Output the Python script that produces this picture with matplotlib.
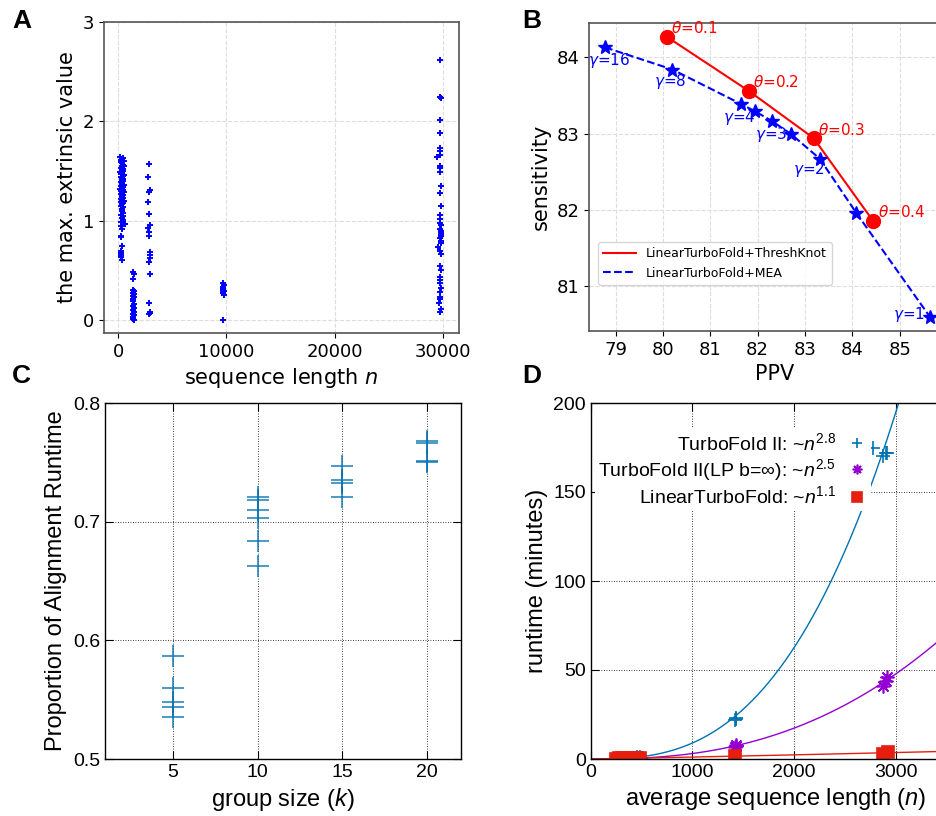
import numpy as np
import matplotlib
matplotlib.use("Agg")
import matplotlib.pyplot as plt

plt.rcParams["mathtext.fontset"] = "custom"
plt.rcParams["mathtext.rm"] = "Liberation Sans"
plt.rcParams["mathtext.it"] = "Liberation Sans:italic"

# ---- panel A: max extrinsic value vs sequence length ----
a_len_1 = [200, 420, 300, 520, 250, 380, 460, 330, 560, 270, 410, 350, 480, 220, 390, 300, 530, 440, 260,
           370, 500, 320, 450, 240, 400, 340, 560, 290, 470, 380, 210, 430, 310, 520, 360, 260, 490, 400,
           330, 450, 230, 380, 540, 300, 420, 350, 270, 470, 390, 320, 500, 250, 440, 360, 410, 290, 600,
           250, 360, 300, 280, 330, 300, 310]
a_val_1 = [1.64, 1.63, 1.61, 1.60, 1.59, 1.58, 1.56, 1.55, 1.55, 1.53, 1.52, 1.51, 1.50, 1.49, 1.48, 1.47,
           1.46, 1.45, 1.44, 1.43, 1.42, 1.41, 1.40, 1.39, 1.38, 1.37, 1.36, 1.35, 1.34, 1.33, 1.32, 1.31,
           1.30, 1.29, 1.28, 1.27, 1.26, 1.25, 1.24, 1.23, 1.22, 1.21, 1.20, 1.19, 1.18, 1.17, 1.15, 1.14,
           1.12, 1.10, 1.08, 1.06, 1.05, 1.03, 1.01, 0.99, 0.97, 0.95, 0.92, 0.85, 0.84, 0.75, 0.70, 0.66]
a_len_1b = [280, 320, 300]
a_val_1b = [0.63, 0.60, 0.68]
a_len_2 = [1400, 1450, 1380, 1420, 1470, 1400, 1440, 1380, 1460, 1420, 1400, 1450, 1390, 1430, 1410,
           1460, 1400, 1440, 1420, 1380, 1450]
a_val_2 = [0.48, 0.46, 0.41, 0.30, 0.29, 0.27, 0.26, 0.24, 0.23, 0.21, 0.19, 0.16, 0.14, 0.12, 0.10,
           0.08, 0.06, 0.05, 0.03, 0.01, 0.00]
a_len_3 = [2900, 2750, 2950, 2880, 2720, 2850, 2950, 2800, 2880, 2900, 2960, 2920, 2950, 2880, 2920,
           2900, 2980, 2930, 2880]
a_val_3 = [1.57, 1.44, 1.31, 1.29, 1.19, 1.07, 0.96, 0.93, 0.89, 0.85, 0.69, 0.66, 0.62, 0.58, 0.46,
           0.17, 0.08, 0.07, 0.06]
a_len_4 = [9700, 9750, 9700, 9720, 9760, 9700, 9740, 9710, 9750, 9700]
a_val_4 = [0.00, 0.25, 0.27, 0.28, 0.29, 0.30, 0.31, 0.33, 0.35, 0.37]
a_len_5 = [29750, 29780, 29800, 29760, 29780, 29750, 29760, 29740, 29500, 29740, 29760, 29750, 29850,
           29700, 29880, 29760, 29780, 29790, 29800, 29760, 29850, 29820, 29800, 29770, 29850, 29800,
           29850, 29600, 29780, 29800, 29760, 29800, 29750, 29780, 29770, 29800, 29760, 29740, 29680,
           29720, 29800, 29760]
a_val_5 = [2.62, 2.25, 2.24, 2.01, 1.88, 1.73, 1.70, 1.66, 1.64, 1.55, 1.53, 1.49, 1.35, 1.28, 1.15,
           1.06, 1.02, 0.98, 0.96, 0.92, 0.90, 0.88, 0.86, 0.83, 0.80, 0.78, 0.85, 0.74, 0.70, 0.67,
           0.54, 0.50, 0.43, 0.40, 0.37, 0.32, 0.28, 0.23, 0.17, 0.21, 0.11, 0.08]

# ---- panel B: sensitivity vs PPV ----
tk_ppv = [80.08, 81.81, 83.18, 84.44]
tk_sens = [84.27, 83.56, 82.94, 81.85]
tk_labels = ["0.1", "0.2", "0.3", "0.4"]
tk_text_xy = [(80.18, 84.38), (81.90, 83.67), (83.28, 83.05), (84.54, 81.97)]
mea_ppv = [78.78, 80.20, 81.64, 81.95, 82.31, 82.71, 83.31, 84.08, 85.63]
mea_sens = [84.13, 83.84, 83.39, 83.29, 83.16, 82.99, 82.67, 81.96, 80.60]
mea_labels = ["16", "8", "4", "3", "2", "1"]
mea_text_xy = [(78.42, 83.96), (79.82, 83.68), (81.27, 83.21), (81.94, 82.99), (82.75, 82.53), (84.86, 80.62)]

# ---- panel C: proportion of alignment runtime ----
c_k = [5, 5, 5, 5, 5, 10, 10, 10, 10, 10, 10, 15, 15, 15, 15, 20, 20, 20, 20]
c_prop = [0.587, 0.560, 0.548, 0.544, 0.535, 0.721, 0.718, 0.710, 0.703, 0.684, 0.663,
          0.747, 0.735, 0.733, 0.721, 0.768, 0.766, 0.751, 0.750]

# ---- panel D: runtime vs average sequence length ----
tf2_n = [260, 300, 340, 380, 420, 460, 480, 1420, 1425, 1430, 2776, 2871, 2900, 2915]
tf2_t = [0.1, 0.2, 0.3, 0.4, 0.6, 0.9, 1.2, 22.0, 23.0, 22.5, 175, 170, 172, 172]
lp_n = [260, 300, 340, 380, 420, 460, 480, 1420, 1425, 1430, 2870, 2900, 2910]
lp_t = [0.1, 0.15, 0.2, 0.3, 0.4, 0.5, 0.6, 7.0, 7.8, 7.4, 41, 44, 46]
lin_n = [250, 280, 310, 340, 370, 400, 430, 460, 480, 1420, 2870, 2920]
lin_t = [0.25, 0.3, 0.3, 0.35, 0.4, 0.4, 0.45, 0.5, 0.5, 1.5, 3.0, 4.0]
d_exps = [2.8, 2.5, 1.1]

fig = plt.figure(figsize=(9.36, 8.16), dpi=100)


def box(l, t, r, b):
    return [l / 936, 1 - b / 816, (r - l) / 936, (b - t) / 816]


# panel A
axA = fig.add_axes(box(104, 22, 459, 333))
for xs, ys in [(a_len_1, a_val_1), (a_len_1b, a_val_1b), (a_len_2, a_val_2), (a_len_3, a_val_3),
               (a_len_4, a_val_4), (a_len_5, a_val_5)]:
    axA.plot(xs, ys, "+", color="blue", ms=4.5, mew=1.4, ls="none")
axA.set_xlim(-1300, 31500)
axA.set_ylim(-0.13, 3)
axA.set_xticks([0, 10000, 20000, 30000])
axA.set_yticks([0, 1, 2, 3])
axA.grid(True, color="#dddddd", ls="--", lw=0.8)
axA.set_axisbelow(True)
axA.tick_params(labelsize=13)
axA.set_xlabel("sequence length $n$", fontsize=15, math_fontfamily="dejavusans")
axA.set_ylabel("the max. extrinsic value", fontsize=15)
for s in axA.spines.values():
    s.set_color("#555555")
    s.set_linewidth(1.2)

# panel B
axB = fig.add_axes(box(589, 23, 960, 331))
axB.plot(tk_ppv, tk_sens, "-", color="red", lw=1.5, label="LinearTurboFold+ThreshKnot")
axB.plot(mea_ppv, mea_sens, "--", color="blue", lw=1.5, label="LinearTurboFold+MEA")
axB.plot(tk_ppv, tk_sens, "o", color="red", ms=10, ls="none")
axB.plot(mea_ppv, mea_sens, "*", color="blue", ms=10, ls="none")
for lab, (tx, ty) in zip(tk_labels, tk_text_xy):
    axB.text(tx, ty, r"$\theta$=" + lab, color="red", fontsize=11, va="center",
             math_fontfamily="dejavusans")
for lab, (tx, ty) in zip(mea_labels, mea_text_xy):
    axB.text(tx, ty, r"$\gamma$=" + lab, color="blue", fontsize=11, va="center",
             math_fontfamily="dejavusans")
axB.set_xlim(78.44, 86.27)
axB.set_ylim(80.41, 84.45)
axB.set_xticks([79, 80, 81, 82, 83, 84, 85])
axB.set_yticks([81, 82, 83, 84])
axB.grid(True, color="#dddddd", ls="--", lw=0.8)
axB.set_axisbelow(True)
axB.tick_params(labelsize=13)
axB.set_xlabel("PPV", fontsize=15)
axB.set_ylabel("sensitivity", fontsize=15)
for s in axB.spines.values():
    s.set_color("#555555")
    s.set_linewidth(1.2)
axB.legend(loc="lower left", bbox_to_anchor=(0.008, 0.13), fontsize=9, handlelength=2.6)

# panel C
gp = ["Liberation Sans", "DejaVu Sans"]
axC = fig.add_axes(box(105, 403, 461, 759))
axC.plot(c_k, c_prop, "+", color="#0072b2", ms=16, mew=1.1, ls="none", alpha=0.9)
axC.set_xlim(1, 22)
axC.set_ylim(0.5, 0.8)
axC.set_xticks([5, 10, 15, 20])
axC.set_yticks([0.5, 0.6, 0.7, 0.8])
axC.set_xlabel("group size ($k$)", fontsize=17, family=gp)
axC.set_ylabel("Proportion of Alignment Runtime", fontsize=17, family=gp)

# panel D
axD = fig.add_axes(box(590.7, 403, 960, 759))
d_colors = ["#0072b2", "#9400d3", "#e51e10"]
d_marks = ["+", (8, 2, 0), "s"]
d_names = ["TurboFold II: ~$n^{\\mathit{2.8}}$", "TurboFold II(LP b=\u221e): ~$n^{\\mathit{2.5}}$",
           "LinearTurboFold: ~$n^{\\mathit{1.1}}$"]
xfit = np.linspace(0, 3631, 400)
for nn, tt, p, col in zip([tf2_n, lp_n, lin_n], [tf2_t, lp_t, lin_t], d_exps, d_colors):
    nn = np.array(nn, float)
    tt = np.array(tt, float)
    coef = np.sum(tt * nn ** p) / np.sum(nn ** (2 * p))
    axD.plot(xfit, coef * xfit ** p, "-", color=col, lw=1.0)
hs = []
for nn, tt, col, mk, name in zip([tf2_n, lp_n, lin_n], [tf2_t, lp_t, lin_t], d_colors, d_marks, d_names):
    ms = 9 if mk == "s" else 10
    h, = axD.plot(nn, tt, ls="none", marker=mk, color=col, ms=ms, mew=1.2, label=name)
    hs.append(h)
axD.set_xlim(0, 3631)
axD.set_ylim(0, 200)
axD.set_xticks([0, 1000, 2000, 3000])
axD.set_yticks([0, 50, 100, 150, 200])
axD.set_xlabel("average sequence length ($n$)", fontsize=17, family=gp)
axD.set_ylabel("runtime (minutes)", fontsize=17, family=gp)
leg = axD.legend(handles=hs, loc="upper right", bbox_to_anchor=(0.785, 0.957), markerfirst=False,
                 handlelength=1.0, handletextpad=0.6, labelspacing=0.15,
                 borderpad=0.2, frameon=True, fancybox=False, framealpha=1, edgecolor="none",
                 prop={"family": gp, "size": 14})
for h in leg.legend_handles:
    h.set_markersize(7)

for ax in (axC, axD):
    ax.grid(True, color="black", ls=(0, (1, 2)), lw=0.6)
    ax.set_axisbelow(True)
    ax.tick_params(direction="in", length=6, top=True, right=True, labelsize=14, width=0.8)
    for lab in ax.get_xticklabels() + ax.get_yticklabels():
        lab.set_family(gp)
    for s in ax.spines.values():
        s.set_color("black")
        s.set_linewidth(1.0)

# panel letters
for letter, px, py in [("A", 12, 9), ("B", 522, 9), ("C", 12, 364), ("D", 522, 364)]:
    fig.text(px / 936, 1 - py / 816, letter, fontsize=19, fontweight="bold",
             family=gp, va="top", ha="left")

fig.savefig("out.png", dpi=100)
